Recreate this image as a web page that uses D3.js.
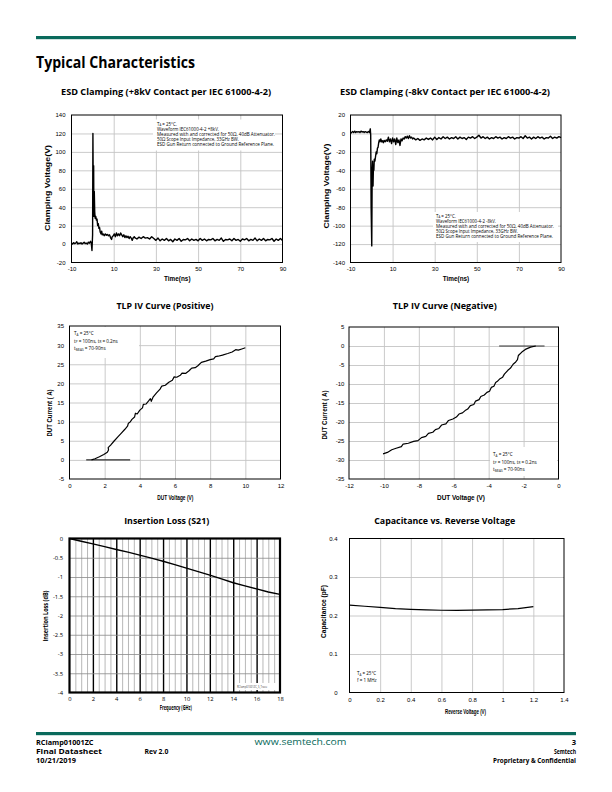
<!DOCTYPE html>
<html><head><meta charset="utf-8">
<script src="https://cdn.jsdelivr.net/npm/d3@7"></script>
<style>body{margin:0;background:#fff}svg{display:block}</style>
</head><body><svg id="c" width="612" height="792"></svg>
<script>
// ---------------- DATA ----------------
const esdTicksX = [-10, 10, 30, 50, 70, 90];
const esdPosTicksY = [-20, 0, 20, 40, 60, 80, 100, 120, 140];
const esdNegTicksY = [20, 0, -20, -40, -60, -80, -100, -120, -140];
const esdPos = [[-10,1],[-9.5,0],[-9,1.5],[-8.5,0.5],[-8,1],[-7.5,2.5],[-7,0],[-6.5,1],[-6,0.5],[-5.5,1.5],[-5,0],[-4.5,1],[-4,2],[-3.5,0.5],[-3,1],[-2.5,0],[-2,2],[-1.5,1],[-1,3],[-0.6,0.5],[-0.3,-7],[0,10],[0.15,120],[0.35,40],[0.5,85],[0.6,30],[0.8,57],[1.0,35],[1.2,28],[1.5,30],[1.8,26],[2.1,27],[2.4,20],[2.7,22],[3.0,17],[3.3,18],[3.6,13],[4.0,11],[4.3,14],[4.6,10],[5,11],[5.5,9],[6,11],[6.5,9.5],[7,10.5],[7.5,9],[8,10],[8.5,7],[9,5],[9.3,8],[9.8,9],[10.3,11],[10.8,8],[11.3,12],[11.8,9],[12.3,11],[12.8,9],[13.3,12],[13.8,10],[14.3,8],[14.8,10],[15.3,7],[15.8,9],[16.3,7],[16.8,8.5],[17.3,6],[17.8,8],[18.3,6.5],[18.8,4],[19.3,7],[19.8,8],[20,7],[21,5.5],[22,7.5],[23,6],[24,8],[25,6.5],[26,7],[27,5.5],[28,8],[29,6],[30,4],[31,6.5],[32,3.5],[33,5.5],[34,4],[35,6],[36,3.5],[37,5],[38,2.5],[39,5.5],[40,4],[41,6],[42,3],[43,5],[44,4.5],[45,6],[46,3.5],[47,5.5],[48,4],[49,5],[50,3.5],[51,6],[52,4],[53,5.5],[54,3.5],[55,5],[56,4.5],[57,6],[58,3.5],[59,5],[60,4],[61,6.5],[62,3],[63,5],[64,4.5],[65,5.5],[66,3.5],[67,6],[68,4],[69,5],[70,3],[71,5.5],[72,4.5],[73,6],[74,3.5],[75,5],[76,4],[77,6.5],[78,3.5],[79,5.5],[80,4],[81,6],[82,3.5],[83,5],[84,4.5],[85,6],[86,3],[87,5.5],[88,4],[89,6],[90,4]];
const esdNeg = [[-10,0],[-9.5,1],[-9,2],[-8.5,1],[-8,2.5],[-7.5,1],[-7,2],[-6.5,1.5],[-6,2],[-5.5,1],[-5,2.5],[-4.5,1.5],[-4,2],[-3.5,1],[-3,2],[-2.5,1.5],[-2,1],[-1.5,2],[-1,1],[-0.6,5],[-0.4,-2],[-0.2,-80],[0.1,-122],[0.3,-40],[0.5,-30],[0.7,-57],[0.9,-35],[1.1,-40],[1.3,-28],[1.6,-30],[1.9,-25],[2.2,-20],[2.5,-22],[2.8,-16],[3.1,-15],[3.4,-10],[3.7,-7],[4.0,-9],[4.4,-6],[4.8,-9],[5.2,-8],[5.6,-10],[6,-7.5],[6.5,-9],[7,-7],[7.5,-8.5],[8,-4],[8.5,-9],[9,-6],[9.5,-11],[10,-5],[10.5,-9],[11,-6],[11.5,-12],[12,-5],[12.5,-10],[13,-7],[13.5,-13],[14,-6],[14.5,-8],[15,-5],[15.5,-6],[16,-3.5],[16.5,-5],[17,-3],[17.5,-5.5],[18,-2.5],[18.5,-5],[19,-4],[19.5,-6],[20,-5],[21,-7],[22,-5.5],[23,-7.5],[24,-6],[25,-7],[26,-5],[27,-6.5],[28,-5],[29,-7],[30,-4],[31,-6.5],[32,-4.5],[33,-6],[34,-3.5],[35,-5.5],[36,-4],[37,-6],[38,-4.5],[39,-5.5],[40,-3.5],[41,-6],[42,-4],[43,-5.5],[44,-4.5],[45,-6.5],[46,-4],[47,-5],[48,-3.5],[49,-5.5],[50,-4],[51,-2],[52,-5],[53,-3.5],[54,-5.5],[55,-4],[56,-6],[57,-4.5],[58,-5.5],[59,-3.5],[60,-5],[61,-4],[62,-6],[63,-4.5],[64,-5.5],[65,-3.5],[66,-5],[67,-4],[68,-6],[69,-4.5],[70,-5],[71,-3.5],[72,-5.5],[73,-2.5],[74,-5],[75,-4],[76,-6],[77,-4],[78,-5.5],[79,-3.5],[80,-5],[81,-4],[82,-6],[83,-4.5],[84,-5],[85,-3],[86,-5.5],[87,-4],[88,-5],[89,-3.5],[90,-4.5]];

const tlpPosTicksX = [0, 2, 4, 6, 8, 10, 12];
const tlpPosTicksY = [-5, 0, 5, 10, 15, 20, 25, 30, 35];
const tlpPosFlat = [[0.95,0],[3.45,0]];
const tlpPos = [[1.25,0],[1.45,0.3],[1.7,0.8],[1.95,1.4],[2.15,2.0],[2.22,2.6],[2.2,3.2],[2.28,3.6],[2.35,3.9],[2.55,5.0],[2.75,6.0],[2.95,7.0],[3.15,8.0],[3.3,8.8],[3.35,9.6],[3.45,9.9],[3.55,10.6],[3.7,11.2],[3.75,12.2],[3.85,12.0],[4.0,13.0],[4.15,13.6],[4.2,14.5],[4.35,14.6],[4.5,15.4],[4.6,16.0],[4.65,15.3],[4.75,16.4],[4.95,17.5],[5.15,18.5],[5.25,19.3],[5.45,19.5],[5.65,20.3],[5.85,20.8],[5.95,21.7],[6.1,21.6],[6.3,22.1],[6.4,22.7],[6.6,22.6],[6.8,23.3],[6.95,24.0],[7.15,24.1],[7.3,24.6],[7.5,25.5],[7.75,25.8],[8.0,26.2],[8.2,26.4],[8.3,27.0],[8.45,27.1],[8.7,27.4],[9.0,27.8],[9.25,28.2],[9.45,28.8],[9.6,28.7],[9.8,29.0],[10.0,29.3]];

const tlpNegTicksX = [-12, -10, -8, -6, -4, -2, 0];
const tlpNegTicksY = [5, 0, -5, -10, -15, -20, -25, -30, -35];
const tlpNegFlat = [[-3.4,0],[-0.8,0]];
const tlpNeg = [[-1.3,0],[-1.6,-0.3],[-1.9,-0.9],[-2.1,-1.6],[-2.3,-2.5],[-2.35,-3.6],[-2.45,-4.2],[-2.6,-4.8],[-2.75,-5.8],[-2.9,-6.4],[-3.1,-7.4],[-3.2,-8.2],[-3.35,-8.6],[-3.5,-9.3],[-3.6,-9.6],[-3.7,-10.6],[-3.85,-10.9],[-3.95,-11.9],[-4.1,-12.2],[-4.25,-12.9],[-4.45,-13.3],[-4.55,-14.1],[-4.75,-14.5],[-4.85,-15.4],[-5.05,-15.7],[-5.2,-16.6],[-5.35,-17.0],[-5.5,-17.6],[-5.7,-17.9],[-5.85,-18.7],[-6.05,-19.2],[-6.3,-19.6],[-6.45,-20.5],[-6.7,-20.8],[-6.85,-21.7],[-7.05,-22.0],[-7.2,-22.7],[-7.45,-23.0],[-7.6,-23.8],[-7.85,-24.1],[-8.05,-24.9],[-8.3,-25.1],[-8.6,-25.6],[-8.9,-25.8],[-9.0,-26.5],[-9.3,-26.9],[-9.55,-27.3],[-9.8,-28.0],[-10.05,-28.4]];

const ilTicksX = [0, 2, 4, 6, 8, 10, 12, 14, 16, 18];
const ilTicksY = [0, -0.5, -1, -1.5, -2, -2.5, -3, -3.5, -4];
const ilMinorX = [0.5,1,1.5,2.5,3,3.5,4.5,5,5.5,6.5,7,7.5,8.5,9,9.5,10.5,11,11.5,12.5,13,13.5,14.5,15,15.5,16.5,17,17.5];
const insertionLoss = [[0,0],[1,-0.07],[2,-0.14],[3,-0.21],[4,-0.285],[5,-0.355],[6,-0.43],[7,-0.51],[8,-0.59],[9,-0.68],[10,-0.77],[11,-0.86],[12,-0.95],[13,-1.05],[14,-1.15],[15,-1.23],[16,-1.31],[17,-1.39],[18,-1.45]];

const capTicksX = [0, 0.2, 0.4, 0.6, 0.8, 1, 1.2, 1.4];
const capTicksY = [0, 0.1, 0.2, 0.3, 0.4];
const capacitance = [[0,0.227],[0.1,0.224],[0.2,0.221],[0.3,0.218],[0.4,0.216],[0.5,0.2145],[0.6,0.2137],[0.7,0.2135],[0.8,0.2138],[0.9,0.2145],[1.0,0.2155],[1.1,0.218],[1.2,0.223]];

// ---------------- DRAW ----------------
const svg = d3.select("#c");
const TEAL = "#0a6a5c";
const ARIAL = "'Liberation Sans', Arial, sans-serif";
const MYR = "'Open Sans', 'Noto Sans', sans-serif";

function txt(x, y, s, o = {}) {
  const t = svg.append("text").attr("x", x).attr("y", y).text(s)
    .attr("font-family", o.font || MYR).attr("font-size", o.size || 8)
    .attr("font-weight", o.weight || "normal").attr("fill", o.fill || "#000")
    .attr("text-anchor", o.anchor || "start");
  if (o.len) t.attr("textLength", o.len).attr("lengthAdjust", "spacingAndGlyphs");
  if (o.rot) t.attr("transform", `rotate(-90,${x},${y})`);
  return t;
}
function sub(t, s, fs) { t.append("tspan").attr("font-size", fs).attr("dy", 0.7).text(s); }
function norm(t, s) { t.append("tspan").attr("dy", -0.7).text(s); }

function chart(o) {
  const x = d3.scaleLinear().domain(o.xd).range([o.l, o.r]);
  const y = d3.scaleLinear().domain(o.yd).range([o.b, o.t]);
  const g = svg.append("g");
  if (o.xMinor) {
    g.append("g").attr("transform", `translate(0,${o.b})`)
      .call(d3.axisBottom(x).tickValues(o.xMinor).tickSize(-(o.b - o.t)).tickFormat(""))
      .call(a => { a.select(".domain").remove(); a.selectAll("line").attr("stroke", o.minorColor).attr("stroke-width", o.minorW); });
  }
  g.append("g").attr("transform", `translate(0,${o.b})`)
    .call(d3.axisBottom(x).tickValues(o.xGrid).tickSize(-(o.b - o.t)).tickFormat(""))
    .call(a => { a.select(".domain").remove(); a.selectAll("line").attr("stroke", o.vGridColor || o.gridColor).attr("stroke-width", o.vGridW || o.gridW); });
  g.append("g").attr("transform", `translate(${o.l},0)`)
    .call(d3.axisLeft(y).tickValues(o.yGrid).tickSize(-(o.r - o.l)).tickFormat(""))
    .call(a => { a.select(".domain").remove(); a.selectAll("line").attr("stroke", o.gridColor).attr("stroke-width", o.gridW); });
  if (o.box) {
    g.append("rect").attr("x", o.box[0]).attr("y", o.box[1]).attr("width", o.box[2]).attr("height", o.box[3]).attr("fill", "#fff");
  }
  g.append("rect").attr("x", o.l).attr("y", o.t).attr("width", o.r - o.l).attr("height", o.b - o.t)
    .attr("fill", "none").attr("stroke", "#000").attr("stroke-width", o.borderW || 1);
  const ax = g.append("g").attr("transform", `translate(0,${o.b})`)
    .call(d3.axisBottom(x).tickValues(o.xTicks).tickSize(0).tickPadding(o.xPad).tickFormat(o.xFmt || (d => d)));
  ax.select(".domain").remove();
  ax.selectAll("text").attr("font-family", o.tickFont || ARIAL).attr("font-size", o.tickSize || 6).attr("fill", "#000");
  const ay = g.append("g").attr("transform", `translate(${o.l},0)`)
    .call(d3.axisLeft(y).tickValues(o.yTicks).tickSize(0).tickPadding(o.yPad).tickFormat(o.yFmt || (d => d)));
  ay.select(".domain").remove();
  ay.selectAll("text").attr("font-family", o.tickFont || ARIAL).attr("font-size", o.tickSize || 6).attr("fill", "#000");
  const line = d3.line().x(d => x(d[0])).y(d => y(d[1]));
  o.series.forEach(s => {
    g.append("path").datum(s.data).attr("d", line).attr("fill", "none")
      .attr("stroke", s.color || "#000").attr("stroke-width", s.w || 1.2).attr("stroke-linejoin", "round");
  });
  return { x, y, g };
}

// Header
svg.append("rect").attr("x", 36).attr("y", 36).attr("width", 540).attr("height", 3.2).attr("fill", TEAL);
txt(36, 68, "Typical Characteristics", { size: 16, weight: "bold", len: 159 });

// Chart titles
txt(166, 94.5, "ESD Clamping (+8kV Contact per IEC 61000-4-2)", { size: 9.5, weight: "bold", anchor: "middle", len: 210 });
txt(445, 94.5, "ESD Clamping (-8kV Contact per IEC 61000-4-2)", { size: 9.5, weight: "bold", anchor: "middle", len: 210 });
txt(165, 308.5, "TLP IV Curve (Positive)", { size: 9.5, weight: "bold", anchor: "middle", len: 97 });
txt(444.7, 308.5, "TLP IV Curve (Negative)", { size: 9.5, weight: "bold", anchor: "middle", len: 104 });
txt(166.7, 523.5, "Insertion Loss (S21)", { size: 9.5, weight: "bold", anchor: "middle", len: 85 });
txt(444.7, 523.5, "Capacitance vs. Reverse Voltage", { size: 9.5, weight: "bold", anchor: "middle", len: 141 });

const GRID = "#c4c4c4";
const esdLines = ["Measured with and corrected for 50Ω, 40dB Attenuator.", "50Ω Scope Input Impedance, 33GHz BW.", "ESD Gun Return connected to Ground Reference Plane."];
function esdNote(x, y, wave, wlen) {
  const t0 = txt(x, y, "T", { size: 4.4 }); sub(t0, "A", 2.8); norm(t0, " = 25°C.");
  txt(x, y + 5.2, wave, { size: 4.4, len: wlen });
  esdLines.forEach((s, i) => txt(x, y + 10.4 + i * 5.2, s, { size: 4.4, len: [118, 82, 117][i] }));
}

// ESD positive
chart({ l: 71.5, r: 282.5, t: 115, b: 262.5, xd: [-10, 90], yd: [-20, 140],
  xGrid: [10, 30, 50, 70], yGrid: [0, 20, 40, 60, 80, 100, 120], gridColor: GRID, gridW: 0.9,
  xTicks: esdTicksX, yTicks: esdPosTicksY, xPad: 4, yPad: 6,
  box: [153, 119.5, 122, 31],
  series: [{ data: esdPos, w: 1.4 }] });
txt(177.3, 280.5, "Time(ns)", { font: ARIAL, size: 6.5, weight: "bold", anchor: "middle", len: 26.5 });
txt(50, 188, "Clamping Voltage(V)", { font: ARIAL, size: 6.5, weight: "bold", anchor: "middle", rot: true, len: 86 });
esdNote(157, 125.5, "Waveform IEC61000-4-2 +8kV.", 62);

// ESD negative
chart({ l: 350.5, r: 561, t: 115, b: 262.5, xd: [-10, 90], yd: [-140, 20],
  xGrid: [10, 30, 50, 70], yGrid: [0, -20, -40, -60, -80, -100, -120], gridColor: GRID, gridW: 0.9,
  xTicks: esdTicksX, yTicks: esdNegTicksY, xPad: 4, yPad: 5.5,
  box: [433, 212, 125, 30],
  series: [{ data: esdNeg, w: 1.4 }] });
txt(456, 280.5, "Time(ns)", { font: ARIAL, size: 6.5, weight: "bold", anchor: "middle", len: 26.5 });
txt(328.5, 186, "Clamping Voltage(V)", { font: ARIAL, size: 6.5, weight: "bold", anchor: "middle", rot: true, len: 85 });
esdNote(436, 217.5, "Waveform IEC61000-4-2 -8kV.", 60);

// TLP positive
chart({ l: 69.5, r: 280.5, t: 326, b: 479, xd: [0, 12], yd: [-5, 35],
  xGrid: [2, 4, 6, 8, 10], yGrid: [0, 5, 10, 15, 20, 25, 30], gridColor: GRID, gridW: 0.9,
  xTicks: tlpPosTicksX, yTicks: tlpPosTicksY, xPad: 5, yPad: 5.5,
  box: [70, 327, 69, 31],
  series: [{ data: tlpPosFlat, w: 1 }, { data: tlpPos, w: 1.2 }] });
txt(175.3, 499.5, "DUT Voltage (V)", { font: ARIAL, size: 6.5, weight: "bold", anchor: "middle", len: 36 });
txt(51.5, 413, "DUT Current ( A)", { font: ARIAL, size: 6.5, weight: "bold", anchor: "middle", rot: true, len: 47 });
function tlpNote(x, y) {
  const a = txt(x, y, "T", { size: 4.6 }); sub(a, "A", 3); norm(a, " = 25°C");
  const b = txt(x, y + 7.5, "t", { size: 4.6 }); sub(b, "P", 3); norm(b, " = 100ns, t"); sub(b, "R", 3); norm(b, " = 0.2ns");
  const c = txt(x, y + 15, "t", { size: 4.6 }); sub(c, "MEAS", 3); norm(c, " = 70-90ns");
}
tlpNote(74, 335);

// TLP negative
chart({ l: 349, r: 558.5, t: 327, b: 479, xd: [-12, 0], yd: [-35, 5],
  xGrid: [-10, -8, -6, -4, -2], yGrid: [0, -5, -10, -15, -20, -25, -30], gridColor: GRID, gridW: 0.9,
  xTicks: tlpNegTicksX, yTicks: tlpNegTicksY, xPad: 5, yPad: 4.7,
  box: [490, 447, 67, 29],
  series: [{ data: tlpNegFlat, w: 1, color: "#333" }, { data: tlpNeg, w: 1.2 }] });
txt(461, 499.5, "DUT Voltage (V)", { font: ARIAL, size: 6.5, weight: "bold", anchor: "middle", len: 48 });
txt(327, 415, "DUT Current ( A)", { font: ARIAL, size: 6.5, weight: "bold", anchor: "middle", rot: true, len: 49 });
tlpNote(493, 456);

// Insertion loss
const il = chart({ l: 69.5, r: 280, t: 538.5, b: 692.5, xd: [0, 18], yd: [-4, 0],
  xMinor: ilMinorX, minorColor: "#9a9a9a", minorW: 0.7,
  xGrid: [2, 4, 6, 8, 10, 12, 14, 16], vGridColor: "#000", vGridW: 1.4,
  yGrid: [-0.5, -1, -1.5, -2, -2.5, -3, -3.5], gridColor: "#8a8a8a", gridW: 0.8,
  xTicks: ilTicksX, yTicks: ilTicksY, xPad: 4, yPad: 6.5, borderW: 2.2,
  tickFont: MYR, tickSize: 5.8,
  series: [{ data: insertionLoss, w: 1.4 }] });
il.g.append("rect").attr("x", 235).attr("y", 683).attr("width", 42).attr("height", 7).attr("fill", "#fff");
il.g.append("text").attr("x", 237).attr("y", 688).attr("font-size", 2.6).attr("font-family", MYR).attr("fill", "#444").text("RClamp01001ZC_S_Trace");
txt(175.8, 710, "Frequency (GHz)", { size: 6.3, weight: "bold", anchor: "middle", len: 32 });
txt(48, 616, "Insertion Loss (dB)", { size: 6.3, weight: "bold", anchor: "middle", rot: true, len: 51 });

// Capacitance
chart({ l: 349.5, r: 564, t: 538.5, b: 692.5, xd: [0, 1.4], yd: [0, 0.4],
  xGrid: [0.2, 0.4, 0.6, 0.8, 1, 1.2], yGrid: [0.1, 0.2, 0.3], gridColor: GRID, gridW: 0.9,
  xTicks: capTicksX, yTicks: capTicksY, xPad: 5, yPad: 12,
  box: [351, 667, 27, 19],
  series: [{ data: capacitance, w: 1.2 }] });
txt(465.5, 714, "Reverse Voltage (V)", { font: ARIAL, size: 6.5, weight: "bold", anchor: "middle", len: 41 });
txt(326, 611.5, "Capacitance (pF)", { font: ARIAL, size: 6.5, weight: "bold", anchor: "middle", rot: true, len: 53 });
{
  const a = txt(357, 675, "T", { size: 4.5 }); sub(a, "A", 3); norm(a, " = 25°C");
  txt(357, 681.5, "f = 1 MHz", { size: 4.5 });
}

// Footer
svg.append("rect").attr("x", 36).attr("y", 732).attr("width", 540).attr("height", 3.2).attr("fill", TEAL);
txt(36, 744.5, "RClamp01001ZC", { size: 7.6, weight: "bold", len: 57.5 });
txt(36, 753.5, "Final Datasheet", { size: 7.6, weight: "bold", len: 66 });
txt(36, 762.5, "10/21/2019", { size: 7.6, weight: "bold", len: 40 });
txt(144.4, 753.5, "Rev 2.0", { size: 7.6, weight: "bold", len: 24 });
txt(300.5, 744.5, "www.semtech.com", { size: 9, fill: TEAL, anchor: "middle", len: 92 });
txt(576, 744.5, "3", { size: 7.6, weight: "bold", anchor: "end" });
txt(576, 753.5, "Semtech", { size: 7.6, weight: "bold", anchor: "end", len: 22 });
txt(576, 762.5, "Proprietary & Confidential", { size: 7.6, weight: "bold", anchor: "end", len: 83 });
</script></body></html>
